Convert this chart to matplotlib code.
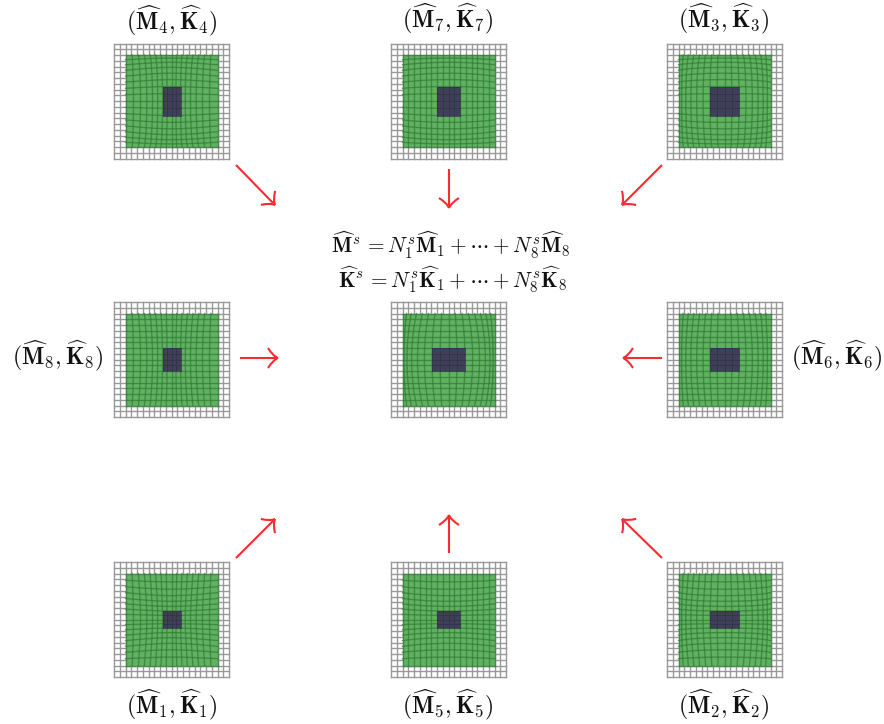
import numpy as np
from matplotlib import pyplot as plt
from matplotlib.patches import Rectangle, PathPatch
from matplotlib.path import Path

plt.rcParams['mathtext.fontset'] = 'cm'

# =============================================================================
# Data
# =============================================================================
# inclusion sizes, in pixels
labels = ["4", "7", "3", "8", None, "6", "1", "5", "2"]
inclusion_w = [18, 23, 29, 18, 33, 29, 18, 23, 29]
inclusion_h = [29, 29, 29, 23, 23, 23, 17, 17, 17]

eq_m = r"$\widehat{\mathbf{M}}^{s}\, = N_1^s\widehat{\mathbf{M}}_1 + \cdots + N_8^s\widehat{\mathbf{M}}_8$"
eq_k = r"$\widehat{\mathbf{K}}^{s}\, = N_1^s\widehat{\mathbf{K}}_1 + \cdots + N_8^s\widehat{\mathbf{K}}_8$"

# =============================================================================
# Layout
# =============================================================================
col_x = [171.5, 448.5, 724.5]
row_y = [101, 359.5, 619.5]
box = 115
green = 92
n_outer = 20
n_inner = 16
x0 = 0.25  # nominal inclusion half width, in green half widths

arrows = [((236, 165), (275, 205)), ((449, 169), (449, 208)), ((662, 165), (622, 205)),
          ((240, 358), (278, 358)), ((662, 358), (623, 358)),
          ((236, 558), (275, 519)), ((449, 553), (449, 515)), ((662, 558), (622, 519))]

label_pos = {"4": (171.5, 21, "center"), "7": (448, 19, "center"), "3": (724, 19, "center"),
             "8": (103, 356, "right"), "6": (791, 356, "left"),
             "1": (171.5, 705, "center"), "5": (448, 705, "center"), "2": (724, 705, "center")}


# =============================================================================
# Warp of the inner mesh
# =============================================================================
def bump(u):
    return u * (1 - u ** 2) / (x0 * (1 - x0 ** 2))


def warp(u, v, w, h):
    half = green / 2
    dx = w / 2 / half - x0
    dy = h / 2 / half - x0
    new_u = u + dx * bump(u) * (1 - 0.6 * v ** 2)
    new_v = v + dy * bump(v) * (1 - 0.6 * u ** 2)
    return new_u, new_v


def draw_panel(ax, cx, cy, w, h):
    half = box / 2
    ax.add_patch(Rectangle((cx - half, cy - half), box, box, fc="white", ec="none", zorder=1))
    for t in np.linspace(-half, half, n_outer + 1):
        ax.plot([cx + t, cx + t], [cy - half, cy + half], color="#999999", lw=1.0, zorder=2)
        ax.plot([cx - half, cx + half], [cy + t, cy + t], color="#999999", lw=1.0, zorder=2)

    g = green / 2
    ax.add_patch(Rectangle((cx - g, cy - g), green, green, fc="#62b163", ec="none", zorder=3))

    s = np.linspace(-1, 1, 60)
    for t in np.linspace(-1, 1, n_inner + 1):
        u, v = warp(np.full_like(s, t), s, w, h)
        ax.plot(cx + g * u, cy + g * v, color="#2f7d35", lw=1.0, alpha=0.7, zorder=4)
        u, v = warp(s, np.full_like(s, t), w, h)
        ax.plot(cx + g * u, cy + g * v, color="#2f7d35", lw=1.0, alpha=0.7, zorder=4)

    ax.add_patch(Rectangle((cx - w / 2, cy - h / 2), w, h, fc="#403f58", ec="none", zorder=5))
    # faint mesh lines running over the inclusion
    for t in np.linspace(-1, 1, 5):
        ax.plot([cx + t * w / 2] * 2, [cy - h / 2, cy + h / 2], color="#33324a", lw=0.5, zorder=6)
        ax.plot([cx - w / 2, cx + w / 2], [cy + t * h / 2] * 2, color="#33324a", lw=0.5, zorder=6)


def draw_arrow(ax, start, end):
    start = np.array(start, float)
    end = np.array(end, float)
    d = (end - start) / np.linalg.norm(end - start)
    n = np.array([-d[1], d[0]])
    ax.plot([start[0], end[0]], [start[1], end[1]], color="#fb2a30", lw=1.5,
            solid_capstyle="butt", zorder=7)
    # curved barbs, as in a LaTeX "to" arrow tip
    for side in (-1, 1):
        ctrl = end - 5 * d + side * 2 * n
        tail = end - 10 * d + side * 10 * n
        path = Path([end, ctrl, tail], [Path.MOVETO, Path.CURVE3, Path.CURVE3])
        ax.add_patch(PathPatch(path, fc="none", ec="#fb2a30", lw=1.5, zorder=7))


# =============================================================================
# Figure
# =============================================================================
fig = plt.figure(figsize=(8.84, 7.24), dpi=100)
ax = fig.add_axes([0, 0, 1, 1])
ax.set_xlim(0, 884)
ax.set_ylim(724, 0)
ax.axis("off")

for i in range(9):
    draw_panel(ax, col_x[i % 3], row_y[i // 3], inclusion_w[i], inclusion_h[i])

for name in labels:
    if name is None:
        continue
    x, y, ha = label_pos[name]
    ax.text(x, y, rf"$(\widehat{{\mathbf{{M}}}}_{name}, \widehat{{\mathbf{{K}}}}_{name})$",
            fontsize=17, ha=ha, va="center", color="#111111")

for start, end in arrows:
    draw_arrow(ax, start, end)

ax.text(451, 245, eq_m, fontsize=15.3, ha="center", va="center", color="#111111")
ax.text(453, 280, eq_k, fontsize=15.3, ha="center", va="center", color="#111111")

fig.savefig("out.png", dpi=100)
